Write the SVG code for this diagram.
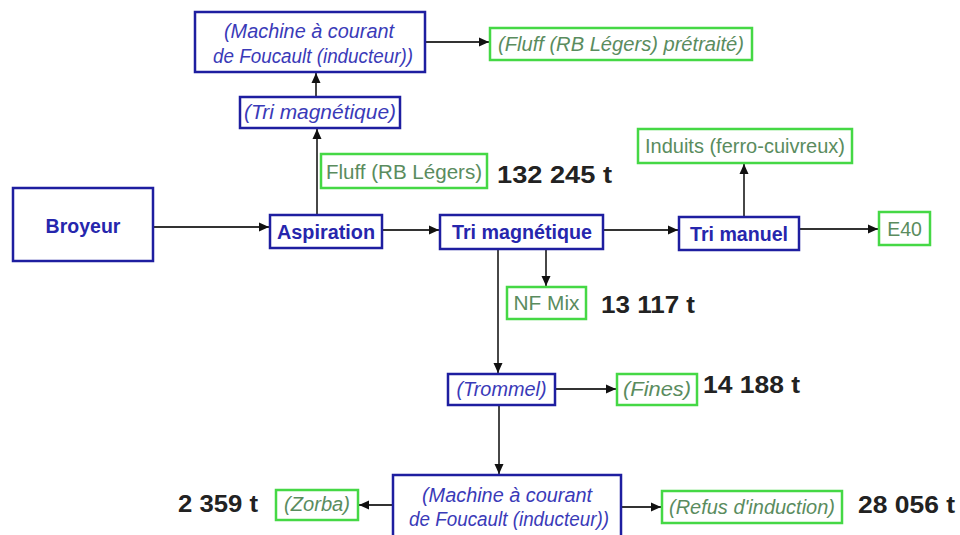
<svg xmlns="http://www.w3.org/2000/svg" width="960" height="535" viewBox="0 0 960 535">
<defs>
<marker id="arr" viewBox="0 0 10 10" refX="10" refY="5" markerWidth="10" markerHeight="10" markerUnits="userSpaceOnUse" orient="auto">
<path d="M0,0.5 L10,5 L0,9.5 z" fill="#111"/>
</marker>
<style>
.bb{fill:#fff;stroke:#1e1ea0;stroke-width:2.5}
.gb{fill:#fff;stroke:#45d845;stroke-width:2.5}
.bt{font-family:"Liberation Sans",Arial,sans-serif;font-weight:bold;font-size:19.5px;fill:#2626ad;text-anchor:middle}
.bi{font-family:"Liberation Sans",Arial,sans-serif;font-style:italic;font-size:19.5px;fill:#3a3ab8;text-anchor:middle}
.gt{font-family:"Liberation Sans",Arial,sans-serif;font-size:19.5px;fill:#5a8c5e;text-anchor:middle}
.gi{font-family:"Liberation Sans",Arial,sans-serif;font-style:italic;font-size:19.5px;fill:#5a8c5e;text-anchor:middle}
.num{font-family:"Liberation Sans",Arial,sans-serif;font-weight:bold;font-size:23px;fill:#222}
.ln{fill:none;stroke:#333;stroke-width:1.8}
</style>
</defs>
<rect width="960" height="535" fill="#fff"/>

<g id="connectors">
<path class="ln" d="M153,227 H269" marker-end="url(#arr)"/>
<path class="ln" d="M382,230 H439" marker-end="url(#arr)"/>
<path class="ln" d="M603,230 H678" marker-end="url(#arr)"/>
<path class="ln" d="M799,229 H878" marker-end="url(#arr)"/>
<path class="ln" d="M744,217 V164" marker-end="url(#arr)"/>
<path class="ln" d="M317,215 V129" marker-end="url(#arr)"/>
<path class="ln" d="M316,97 V73" marker-end="url(#arr)"/>
<path class="ln" d="M425,42 H489" marker-end="url(#arr)"/>
<path class="ln" d="M546,249 V286" marker-end="url(#arr)"/>
<path class="ln" d="M498,249 V373" marker-end="url(#arr)"/>
<path class="ln" d="M555,389 H616" marker-end="url(#arr)"/>
<path class="ln" d="M499,405 V474" marker-end="url(#arr)"/>
<path class="ln" d="M393,505 H359" marker-end="url(#arr)"/>
<path class="ln" d="M621,507 H661" marker-end="url(#arr)"/>
</g>

<g id="n-broyeur"><rect class="bb" x="13" y="188" width="140" height="73"/><text class="bt" x="83" y="233">Broyeur</text></g>
<g id="n-aspiration"><rect class="bb" x="270" y="215" width="112" height="33"/><text class="bt" x="326" y="239" textLength="98" lengthAdjust="spacingAndGlyphs">Aspiration</text></g>
<g id="n-trimag"><rect class="bb" x="440" y="215" width="163" height="34"/><text class="bt" x="522" y="239" textLength="140" lengthAdjust="spacingAndGlyphs">Tri magnétique</text></g>
<g id="n-trimanuel"><rect class="bb" x="679" y="217" width="120" height="33"/><text class="bt" x="739" y="241" textLength="98" lengthAdjust="spacingAndGlyphs">Tri manuel</text></g>
<g id="n-e40"><rect class="gb" x="879" y="212" width="51" height="33"/><text class="gt" x="904.5" y="236">E40</text></g>
<g id="n-induits"><rect class="gb" x="638" y="129" width="214" height="34"/><text class="gt" x="745" y="153" textLength="200" lengthAdjust="spacingAndGlyphs">Induits (ferro-cuivreux)</text></g>
<g id="n-fluff"><rect class="gb" x="321" y="154" width="166" height="34"/><text class="gt" x="404" y="179" textLength="156" lengthAdjust="spacingAndGlyphs">Fluff (RB Légers)</text></g>
<g id="n-trimag2"><rect class="bb" x="240" y="97" width="160" height="31"/><text class="bi" x="320" y="119" textLength="152" lengthAdjust="spacingAndGlyphs">(Tri magnétique)</text></g>
<g id="n-machine1"><rect class="bb" x="195" y="12" width="230" height="60"/><text class="bi" x="309" y="38" textLength="170" lengthAdjust="spacingAndGlyphs">(Machine à courant</text><text class="bi" x="313" y="63" textLength="200" lengthAdjust="spacingAndGlyphs">de Foucault (inducteur))</text></g>
<g id="n-fluffpre"><rect class="gb" x="490" y="28" width="262" height="32"/><text class="gi" x="621" y="51" textLength="246" lengthAdjust="spacingAndGlyphs">(Fluff (RB Légers)  prétraité)</text></g>
<g id="n-nfmix"><rect class="gb" x="507" y="287" width="79" height="32"/><text class="gt" x="546.5" y="310" textLength="66" lengthAdjust="spacingAndGlyphs">NF Mix</text></g>
<g id="n-trommel"><rect class="bb" x="448" y="374" width="107" height="31"/><text class="bi" x="501.5" y="396" textLength="90" lengthAdjust="spacingAndGlyphs">(Trommel)</text></g>
<g id="n-fines"><rect class="gb" x="617" y="374" width="80" height="31"/><text class="gi" x="657" y="396" textLength="68" lengthAdjust="spacingAndGlyphs">(Fines)</text></g>
<g id="n-machine2"><rect class="bb" x="393" y="475" width="228" height="70"/><text class="bi" x="507" y="502" textLength="170" lengthAdjust="spacingAndGlyphs">(Machine à courant</text><text class="bi" x="509" y="526" textLength="200" lengthAdjust="spacingAndGlyphs">de Foucault (inducteur))</text></g>
<g id="n-zorba"><rect class="gb" x="276" y="490" width="82" height="30"/><text class="gi" x="317" y="511" textLength="66" lengthAdjust="spacingAndGlyphs">(Zorba)</text></g>
<g id="n-refus"><rect class="gb" x="662" y="491" width="180" height="32"/><text class="gi" x="752" y="514" textLength="166" lengthAdjust="spacingAndGlyphs">(Refus d'induction)</text></g>

<g id="quantities">
<text class="num" x="497" y="183" textLength="115" lengthAdjust="spacingAndGlyphs">132 245 t</text>
<text class="num" x="601" y="313" textLength="94" lengthAdjust="spacingAndGlyphs">13 117 t</text>
<text class="num" x="703" y="393" textLength="97" lengthAdjust="spacingAndGlyphs">14 188 t</text>
<text class="num" x="178" y="512" textLength="80" lengthAdjust="spacingAndGlyphs">2 359 t</text>
<text class="num" x="858" y="513" textLength="97" lengthAdjust="spacingAndGlyphs">28 056 t</text>
</g>
</svg>
